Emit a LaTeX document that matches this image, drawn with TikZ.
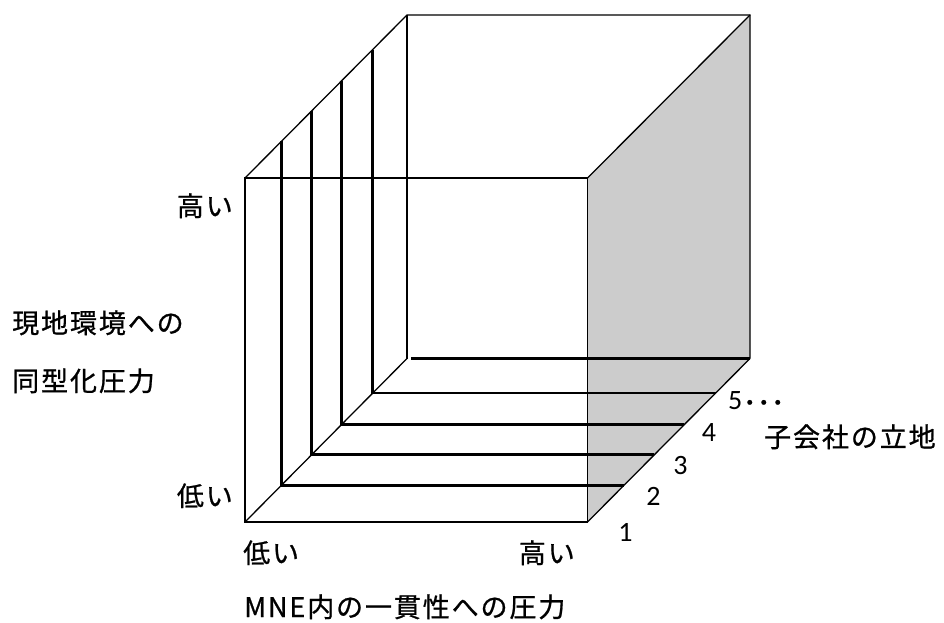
\documentclass[tikz,border=0pt]{standalone}
\usepackage{fontspec}
\newfontfamily\jp{Noto Sans CJK JP}[LetterSpace=7,FakeBold=0.8]
\newfontfamily\jpplain{Noto Sans CJK JP}[FakeBold=0.8]
\newfontfamily\numfont{Carlito}
\usetikzlibrary{calc}
\definecolor{sidegray}{HTML}{CCCCCC}
\begin{document}
\begin{tikzpicture}[x=1pt,y=-1pt,
  edgeline/.style={line width=1.3pt, black},
  gridline/.style={line width=2.6pt, black},
  jlabel/.style={inner sep=0pt, font=\jp\fontsize{27}{31}\selectfont},
  dlabel/.style={inner sep=0pt, font=\numfont\fontsize{28}{32}\selectfont},
]
\useasboundingbox (0,0) rectangle (944,623);
% front face corners
\coordinate (FTL) at (245,178);
\coordinate (FTR) at (587.5,178);
\coordinate (FBL) at (245,522);
\coordinate (FBR) at (587.5,522);
% back face corners
\coordinate (BTL) at (407,15);
\coordinate (BTR) at (750,15);
\coordinate (BBL) at (407,358.5);
\coordinate (BBR) at (750,358.5);
% shaded right face
\fill[sidegray] (FTR) -- (BTR) -- (BBR) -- (FBR) -- cycle;
% thin edges
\draw[edgeline] (FTL) rectangle (FBR);
\draw[edgeline] (FTL) -- (BTL) -- (BTR) -- (BBR);
\draw[edgeline] (BTL) -- (BBL);
\draw[edgeline] (FTR) -- (BTR);
\draw[edgeline] (FBL) -- (BBL);
\draw[edgeline] (FBR) -- (BBR);
% thick location layers
\foreach \t in {0.224,0.412,0.596,0.788}{
  \draw[gridline] ($(FTL)!\t!(BTL)$) -- ($(FBL)!\t!(BBL)$) -- ($(FBR)!\t!(BBR)$);
}
\coordinate (BBLs) at (411,358.5);
\draw[gridline] (BBLs) -- (BBR);
% labels
\node[jlabel, anchor=base east] (yhigh) at (233,216) {高い};
\node[jlabel, anchor=base east] (ylow) at (233,506) {低い};
\node[jlabel, anchor=base west] (ytitle1) at (12,333) {現地環境への};
\node[jlabel, anchor=base west] (ytitle2) at (12,391) {同型化圧力};
\node[jlabel, anchor=base west] (xlow) at (243,563) {低い};
\node[jlabel, anchor=base east] (xhigh) at (575,563) {高い};
\node[jlabel, anchor=base west] (xtitle) at (244,617) {MNE内の一貫性への圧力};
\node[jlabel, anchor=base west] (ztitle) at (764,447) {子会社の立地};
\node[dlabel, anchor=base] (z1) at (625.5,541) {1};
\node[dlabel, anchor=base] (z2) at (653.5,505) {2};
\node[dlabel, anchor=base] (z3) at (680.5,474) {3};
\node[dlabel, anchor=base] (z4) at (709,441) {4};
\node[dlabel, anchor=base west] (z5) at (728,409) {5};
\node[inner sep=0pt, anchor=base west, yshift=-4pt, font=\jpplain\fontsize{28}{32}\selectfont] (zdots) at (z5.base east) {･･･};
\end{tikzpicture}
\end{document}
